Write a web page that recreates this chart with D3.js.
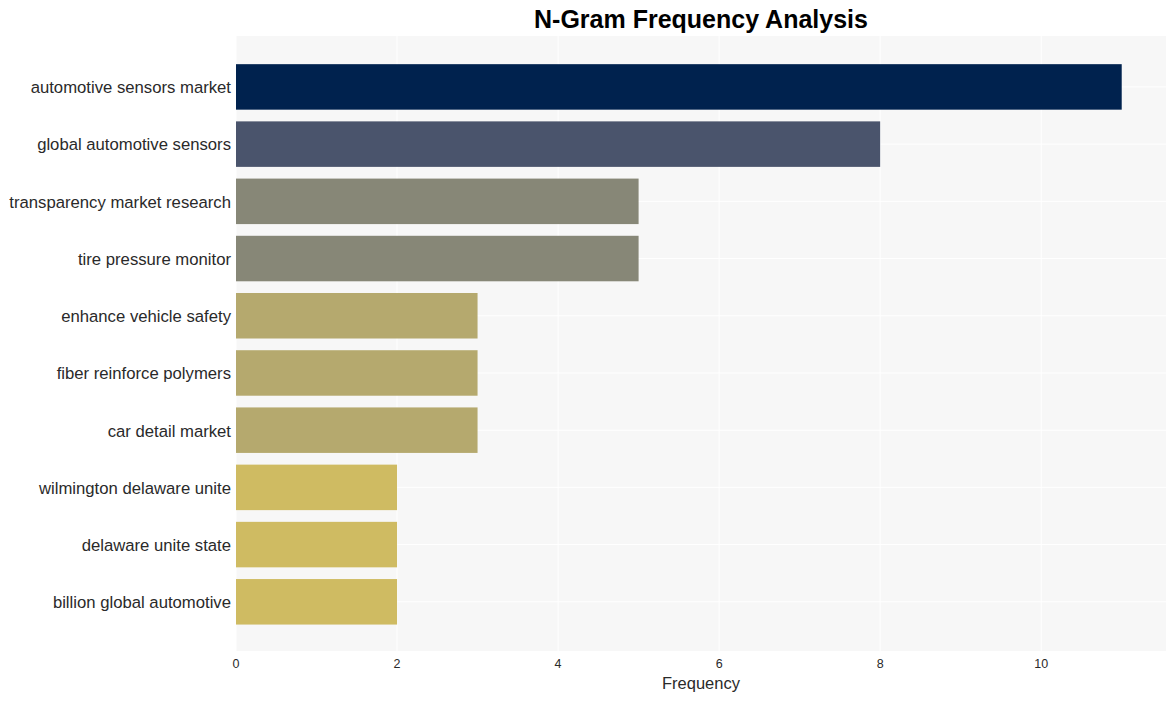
<!DOCTYPE html>
<html><head><meta charset="utf-8">
<script src="https://cdn.jsdelivr.net/npm/d3@7"></script>
<style>body{margin:0;background:#fff;font-family:"Liberation Sans",Arial,sans-serif;}</style>
</head><body><svg id="c" width="1176" height="701"></svg>
<script>
const categories = ["automotive sensors market","global automotive sensors","transparency market research","tire pressure monitor","enhance vehicle safety","fiber reinforce polymers","car detail market","wilmington delaware unite","delaware unite state","billion global automotive"];
const values = [11,8,5,5,3,3,3,2,2,2];
const barColors = ["#00224e","#4a546c","#878777","#878777","#b5a96e","#b5a96e","#b5a96e","#cfbb62","#cfbb62","#cfbb62"];
const xTicks = [0,2,4,6,8,10];
const title = "N-Gram Frequency Analysis";
const xTitle = "Frequency";

const svg = d3.select("#c");
const L=236, R=1166, T=36, B=651;
const x = d3.scaleLinear().domain([0, 11.55]).range([L, R]);
const y = d3.scaleLinear().domain([-0.89, 9.86]).range([T, B]);
const bh = 45.5;

svg.append("rect").attr("x",L).attr("y",T).attr("width",R-L).attr("height",B-T).attr("fill","#f7f7f7");
svg.append("g").selectAll("line").data(xTicks).join("line")
  .attr("x1",d=>x(d)).attr("x2",d=>x(d)).attr("y1",T).attr("y2",B)
  .attr("stroke","#fff").attr("stroke-width",1);
svg.append("g").selectAll("line").data(categories).join("line")
  .attr("x1",L).attr("x2",R).attr("y1",(d,i)=>y(i)).attr("y2",(d,i)=>y(i))
  .attr("stroke","#fff").attr("stroke-width",1);

svg.append("g").selectAll("rect").data(values).join("rect")
  .attr("x",x(0)).attr("y",(d,i)=>y(i)-bh/2).attr("width",d=>x(d)-x(0)).attr("height",bh)
  .attr("fill",(d,i)=>barColors[i]);

svg.append("g").selectAll("text").data(categories).join("text")
  .attr("x",L-5).attr("y",(d,i)=>y(i)+0.5).attr("dy","0.35em").attr("text-anchor","end")
  .attr("font-size",16.7).attr("fill","#2a2a2a").text(d=>d);

svg.append("g").selectAll("text").data(xTicks).join("text")
  .attr("x",d=>x(d)).attr("y",B+17).attr("text-anchor","middle")
  .attr("font-size",12.5).attr("fill","#2a2a2a").text(d=>d);

svg.append("text").attr("x",(L+R)/2).attr("y",689).attr("text-anchor","middle")
  .attr("font-size",16.5).attr("fill","#2a2a2a").text(xTitle);
svg.append("text").attr("x",701).attr("y",28).attr("text-anchor","middle")
  .attr("font-size",25).attr("font-weight","bold").attr("fill","#000").text(title);
</script></body></html>
